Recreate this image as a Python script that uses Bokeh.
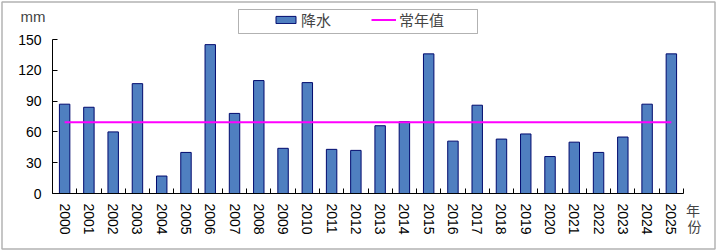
from bokeh.plotting import figure
from bokeh.models import (Range1d, FixedTicker, Label, Legend, LegendItem,
                          BoxAnnotation, LinearAxis)
from bokeh.embed import file_html
from bokeh.resources import INLINE

years = [str(y) for y in range(2000, 2026)]
precip = [87, 84, 60, 107, 17, 40, 145, 78, 110, 44, 108, 43, 42, 66, 70,
          136, 51, 86, 53, 58, 36, 50, 40, 55, 87, 136]
normal = 69.5
y_ticks = [0, 30, 60, 90, 120, 150]

NUM_FONT = "Liberation Sans"
CJK_FONT = "Noto Sans CJK SC"

W, H = 716, 250
# plot-area placement on the canvas (pixels)
PL, PR, PT, PB = 52, 683, 39, 193
n = len(years)
idx = list(range(n))
x_lo, x_hi = -0.5, n - 0.5
y_lo, y_hi = 0, 150
sx = (PR - PL) / (x_hi - x_lo)
sy = (PB - PT) / (y_hi - y_lo)

p = figure(width=W, height=H, output_backend="svg", toolbar_location=None,
           x_axis_type=None, y_axis_type=None,
           x_range=Range1d(x_lo - PL / sx, x_hi + (W - PR) / sx),
           y_range=Range1d(y_lo - (H - PB) / sy, y_hi + PT / sy),
           min_border_left=0, min_border_right=0, min_border_top=0,
           min_border_bottom=0)
p.outline_line_color = None

bars = p.vbar(x=idx, top=precip, width=0.43, fill_color="#4F7FC0",
              line_color="#000A6E", line_width=1)
line = p.line(x=[idx[0], idx[-1]], y=[normal, normal], line_color="#FF00FF",
              line_width=2)

xa = LinearAxis(fixed_location=y_lo, bounds=(x_lo, x_hi))
xa.ticker = FixedTicker(ticks=idx, minor_ticks=[i - 0.5 for i in range(n + 1)])
xa.major_label_overrides = {i: y for i, y in zip(idx, years)}
xa.major_label_orientation = "vertical"
xa.major_tick_line_color = None
xa.major_tick_in = 0
xa.major_tick_out = 0
xa.minor_tick_in = 5
xa.minor_tick_out = 0
xa.minor_tick_line_color = "black"
xa.axis_line_color = "black"
xa.major_label_standoff = 10
xa.major_label_text_font = NUM_FONT
xa.major_label_text_font_size = "14px"
xa.major_label_text_color = "black"
p.add_layout(xa, "below")

ya = LinearAxis(fixed_location=x_lo, bounds=(y_lo, y_hi))
ya.ticker = FixedTicker(ticks=y_ticks)
ya.major_tick_in = 5
ya.major_tick_out = 0
ya.minor_tick_line_color = None
ya.axis_line_color = "black"
ya.major_tick_line_color = "black"
ya.major_label_standoff = 11
ya.major_label_text_font = NUM_FONT
ya.major_label_text_font_size = "14px"
ya.major_label_text_color = "black"
p.add_layout(ya, "left")

legend = Legend(items=[LegendItem(label="降水", renderers=[bars]),
                       LegendItem(label="常年值", renderers=[line])],
                orientation="horizontal", location=(273, 220),
                padding=0, margin=0, spacing=40, glyph_width=25, glyph_height=9,
                label_height=16, label_standoff=3,
                label_text_font=CJK_FONT, label_text_font_size="15px",
                border_line_color=None, background_fill_alpha=0)
p.add_layout(legend, "center")

p.add_layout(BoxAnnotation(left=238, right=477, top=9, bottom=33,
                           left_units="canvas", right_units="canvas",
                           top_units="canvas", bottom_units="canvas",
                           fill_alpha=0, line_color="black", line_width=1))
p.add_layout(BoxAnnotation(left=1.5, right=714.5, top=1.5, bottom=248.5,
                           left_units="canvas", right_units="canvas",
                           top_units="canvas", bottom_units="canvas",
                           fill_alpha=0, line_color="black", line_width=1.5))

p.add_layout(Label(x=20, y=16, x_units="canvas", y_units="canvas", text="mm",
                   text_font=NUM_FONT, text_font_size="15px",
                   text_baseline="middle", text_align="left"))
p.add_layout(Label(x=692.5, y=209, x_units="canvas", y_units="canvas", text="年",
                   text_font=CJK_FONT, text_font_size="14px",
                   text_baseline="middle", text_align="center"))
p.add_layout(Label(x=694, y=225, x_units="canvas", y_units="canvas", text="份",
                   text_font=CJK_FONT, text_font_size="14px",
                   text_baseline="middle", text_align="center"))

open("out.html", "w").write(file_html(p, INLINE))
